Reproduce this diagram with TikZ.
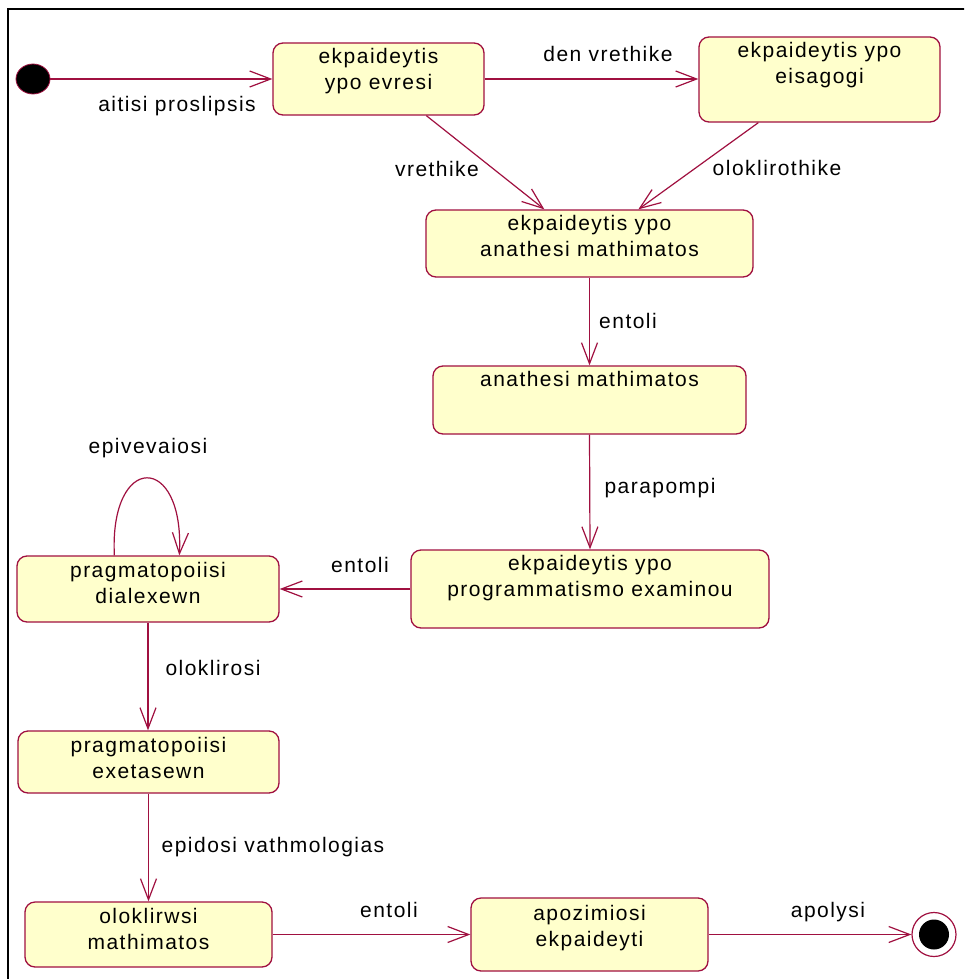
\documentclass[tikz,border=0pt]{standalone}
\usepackage{fontspec}
\setmainfont{Liberation Sans}[LetterSpace=7]
\usetikzlibrary{arrows.meta,calc,shapes.geometric}
\definecolor{uml}{RGB}{160,16,64}
\definecolor{fillc}{RGB}{255,255,204}
\newcommand\tl{\rule{0pt}{15pt}}
\begin{document}
\begin{tikzpicture}[x=1pt,y=-1pt,
  state/.style={draw=uml, fill=fillc, line width=1.3pt, rounded corners=10pt, inner sep=0pt},
  stxt/.style={anchor=north, inner sep=0pt, align=center, font=\fontsize{21}{26}\selectfont},
  lab/.style={anchor=base, inner sep=0pt, font=\fontsize{21}{26}\selectfont},
  tr/.style={draw=uml, line width=1.2pt, -{Straight Barb[length=21pt,width=16pt,line width=1.2pt]}}]
\useasboundingbox (0,0) rectangle (964,979);
\fill[white] (0,0) rectangle (964,979);
\begin{scope}
\clip (0,0) rectangle (964,979);
\draw[line width=2.2pt] (8,1000) -- (8,9) -- (990,9);
\end{scope}
% states
\node[state, minimum width=211pt, minimum height=72pt] (b1) at (378.5,79) {};
\node[state, minimum width=241pt, minimum height=85pt] (b2) at (819.5,79.5) {};
\node[state, minimum width=327pt, minimum height=67pt] (b3) at (589.5,243.5) {};
\node[state, minimum width=313pt, minimum height=68pt] (b4) at (589.5,400) {};
\node[state, minimum width=358pt, minimum height=78pt] (b5) at (590,589) {};
\node[state, minimum width=262pt, minimum height=66pt] (b6) at (148,589) {};
\node[state, minimum width=261pt, minimum height=62pt] (b7) at (148.5,762) {};
\node[state, minimum width=247pt, minimum height=65pt] (b8) at (148.5,934.5) {};
\node[state, minimum width=237pt, minimum height=73pt] (b9) at (589.5,934.5) {};
% texts
\node[stxt] (t1) at (378.5,48) {\tl ekpaideytis\\ypo evresi};
\node[stxt] (t2) at (819.5,42) {\tl ekpaideytis ypo\\eisagogi};
\node[stxt] (t3) at (589.5,215) {\tl ekpaideytis ypo\\anathesi mathimatos};
\node[stxt] (t4) at (589.5,371) {\tl anathesi mathimatos};
\node[stxt] (t5) at (590,555) {\tl ekpaideytis ypo\\programmatismo examinou};
\node[stxt] (t6) at (148,562) {\tl pragmatopoiisi\\dialexewn};
\node[stxt] (t7) at (148.5,737) {\tl pragmatopoiisi\\exetasewn};
\node[stxt] (t8) at (148.5,908) {\tl oloklirwsi\\mathimatos};
\node[stxt] (t9) at (589.5,905) {\tl apozimiosi\\ekpaideyti};
% initial / final
\node[draw=uml, fill=black, line width=0.8pt, ellipse, minimum width=34pt, minimum height=30pt, inner sep=0pt] (init) at (33,79) {};
\node[draw=uml, fill=white, line width=1.2pt, circle, minimum size=44pt, inner sep=0pt] (fin) at (934,934.5) {};
\node[fill=black, circle, minimum size=30pt, inner sep=0pt] (finin) at (fin) {};
% transitions
\draw[tr] (init.east) -- (init.east -| b1.west);
\draw[tr] (b1.east) -- (b1.east -| b2.west);
\draw[tr] ($(b1.south west)+(154,0)$) coordinate (s13) -- ($(b3.north west)+(119,0)$) coordinate (e13);
\draw[tr] ($(b2.south west)+(60,0)$) coordinate (s23) -- ($(b3.north west)+(213,0)$) coordinate (e23);
\draw[tr] (b3.south) -- (b4.north);
\draw[tr] (b4.south) -- (b5.north);
\draw[tr] (b5.west) -- (b6.east);
\draw[tr] ($(b6.north west)+(98,0)$) coordinate (s66) .. controls +(-5,-103) and +(5,-103) .. ($(b6.north west)+(163,0)$) coordinate (e66);
\draw[tr] (b6.south) -- (b6.south |- b7.north);
\draw[tr] (b7.south) -- (b8.north);
\draw[tr] (b8.east) -- (b9.west);
\draw[tr] (b9.east) -- (fin.west);
% labels
\node[lab] (l1) at (177,112) {aitisi proslipsis};
\node[lab] (l2) at (608,62) {den vrethike};
\node[lab] (l3) at (437,176) {vrethike};
\node[lab] (l4) at (777,175) {oloklirothike};
\node[lab] (l5) at (628,328) {entoli};
\node[lab] (l6) at (660,493) {parapompi};
\node[lab] (l7) at (148,453) {epivevaiosi};
\node[lab] (l8) at (360,572) {entoli};
\node[lab] (l9) at (213,675) {oloklirosi};
\node[lab] (l10) at (273,852) {epidosi vathmologias};
\node[lab] (l11) at (389,917) {entoli};
\node[lab] (l12) at (828,917) {apolysi};
\end{tikzpicture}
\end{document}
